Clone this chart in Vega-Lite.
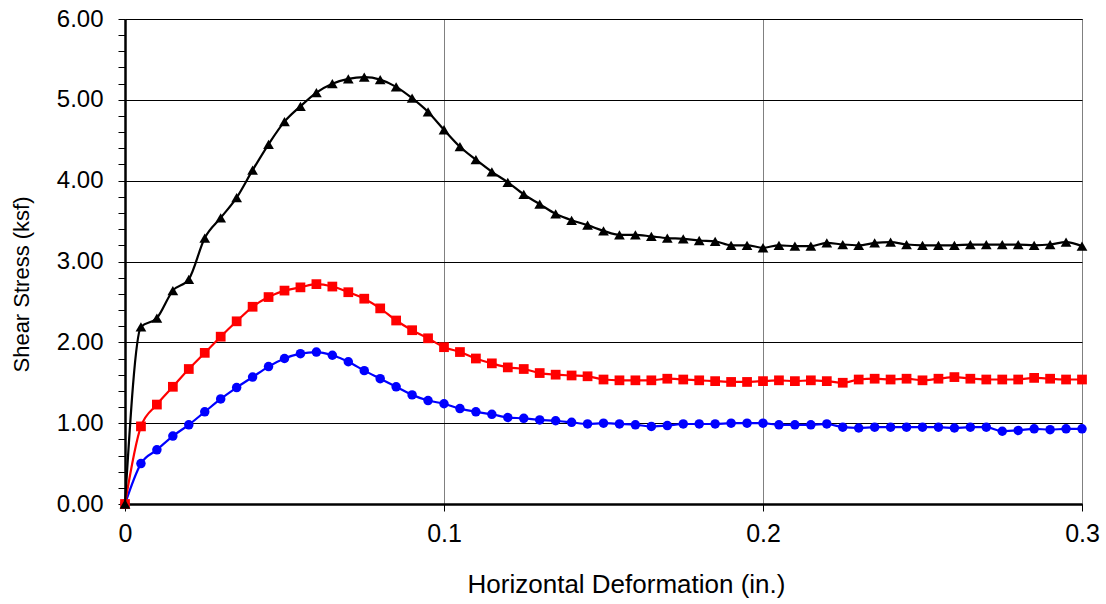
{
  "$schema": "https://vega.github.io/schema/vega-lite/v6.json",
  "width": 957,
  "height": 485,
  "autosize": {"type": "none"},
  "padding": {"left": 125, "top": 19, "right": 24, "bottom": 100},
  "background": "white",
  "config": {
    "view": {"stroke": "black", "strokeWidth": 1},
    "font": "Liberation Sans"
  },
  "datasets": {
    "black": [
      {"x": 0, "y": 0}, {"x": 0.005, "y": 2.19}, {"x": 0.01, "y": 2.30}, {"x": 0.015, "y": 2.64}, {"x": 0.02, "y": 2.78},
      {"x": 0.025, "y": 3.29}, {"x": 0.03, "y": 3.54}, {"x": 0.035, "y": 3.79}, {"x": 0.04, "y": 4.13}, {"x": 0.045, "y": 4.45},
      {"x": 0.05, "y": 4.73}, {"x": 0.055, "y": 4.92}, {"x": 0.06, "y": 5.09}, {"x": 0.065, "y": 5.20}, {"x": 0.07, "y": 5.26},
      {"x": 0.075, "y": 5.28}, {"x": 0.08, "y": 5.25}, {"x": 0.085, "y": 5.16}, {"x": 0.09, "y": 5.02}, {"x": 0.095, "y": 4.85},
      {"x": 0.1, "y": 4.63}, {"x": 0.105, "y": 4.42}, {"x": 0.11, "y": 4.26}, {"x": 0.115, "y": 4.11}, {"x": 0.12, "y": 3.98},
      {"x": 0.125, "y": 3.83}, {"x": 0.13, "y": 3.71}, {"x": 0.135, "y": 3.59}, {"x": 0.14, "y": 3.51}, {"x": 0.145, "y": 3.45},
      {"x": 0.15, "y": 3.38}, {"x": 0.155, "y": 3.33}, {"x": 0.16, "y": 3.33}, {"x": 0.165, "y": 3.31}, {"x": 0.17, "y": 3.29},
      {"x": 0.175, "y": 3.28}, {"x": 0.18, "y": 3.26}, {"x": 0.185, "y": 3.25}, {"x": 0.19, "y": 3.20}, {"x": 0.195, "y": 3.20},
      {"x": 0.2, "y": 3.17}, {"x": 0.205, "y": 3.20}, {"x": 0.21, "y": 3.19}, {"x": 0.215, "y": 3.19}, {"x": 0.22, "y": 3.23},
      {"x": 0.225, "y": 3.21}, {"x": 0.23, "y": 3.20}, {"x": 0.235, "y": 3.23}, {"x": 0.24, "y": 3.24}, {"x": 0.245, "y": 3.21},
      {"x": 0.25, "y": 3.20}, {"x": 0.255, "y": 3.20}, {"x": 0.26, "y": 3.20}, {"x": 0.265, "y": 3.21}, {"x": 0.27, "y": 3.21},
      {"x": 0.275, "y": 3.21}, {"x": 0.28, "y": 3.21}, {"x": 0.285, "y": 3.20}, {"x": 0.29, "y": 3.21}, {"x": 0.295, "y": 3.24},
      {"x": 0.3, "y": 3.19}
    ],
    "red": [
      {"x": 0, "y": 0}, {"x": 0.005, "y": 0.96}, {"x": 0.01, "y": 1.23}, {"x": 0.015, "y": 1.45}, {"x": 0.02, "y": 1.67},
      {"x": 0.025, "y": 1.87}, {"x": 0.03, "y": 2.07}, {"x": 0.035, "y": 2.26}, {"x": 0.04, "y": 2.44}, {"x": 0.045, "y": 2.56},
      {"x": 0.05, "y": 2.64}, {"x": 0.055, "y": 2.68}, {"x": 0.06, "y": 2.72}, {"x": 0.065, "y": 2.69}, {"x": 0.07, "y": 2.62},
      {"x": 0.075, "y": 2.54}, {"x": 0.08, "y": 2.42}, {"x": 0.085, "y": 2.27}, {"x": 0.09, "y": 2.15}, {"x": 0.095, "y": 2.05},
      {"x": 0.1, "y": 1.94}, {"x": 0.105, "y": 1.88}, {"x": 0.11, "y": 1.80}, {"x": 0.115, "y": 1.74}, {"x": 0.12, "y": 1.69},
      {"x": 0.125, "y": 1.67}, {"x": 0.13, "y": 1.62}, {"x": 0.135, "y": 1.60}, {"x": 0.14, "y": 1.59}, {"x": 0.145, "y": 1.58},
      {"x": 0.15, "y": 1.54}, {"x": 0.155, "y": 1.53}, {"x": 0.16, "y": 1.53}, {"x": 0.165, "y": 1.53}, {"x": 0.17, "y": 1.55},
      {"x": 0.175, "y": 1.54}, {"x": 0.18, "y": 1.53}, {"x": 0.185, "y": 1.52}, {"x": 0.19, "y": 1.51}, {"x": 0.195, "y": 1.51},
      {"x": 0.2, "y": 1.52}, {"x": 0.205, "y": 1.53}, {"x": 0.21, "y": 1.52}, {"x": 0.215, "y": 1.53}, {"x": 0.22, "y": 1.52},
      {"x": 0.225, "y": 1.50}, {"x": 0.23, "y": 1.54}, {"x": 0.235, "y": 1.55}, {"x": 0.24, "y": 1.54}, {"x": 0.245, "y": 1.55},
      {"x": 0.25, "y": 1.53}, {"x": 0.255, "y": 1.55}, {"x": 0.26, "y": 1.57}, {"x": 0.265, "y": 1.55}, {"x": 0.27, "y": 1.54},
      {"x": 0.275, "y": 1.54}, {"x": 0.28, "y": 1.54}, {"x": 0.285, "y": 1.56}, {"x": 0.29, "y": 1.55}, {"x": 0.295, "y": 1.54},
      {"x": 0.3, "y": 1.54}
    ],
    "blue": [
      {"x": 0, "y": 0}, {"x": 0.005, "y": 0.50}, {"x": 0.01, "y": 0.67}, {"x": 0.015, "y": 0.84}, {"x": 0.02, "y": 0.98},
      {"x": 0.025, "y": 1.14}, {"x": 0.03, "y": 1.30}, {"x": 0.035, "y": 1.44}, {"x": 0.04, "y": 1.57}, {"x": 0.045, "y": 1.70},
      {"x": 0.05, "y": 1.80}, {"x": 0.055, "y": 1.86}, {"x": 0.06, "y": 1.88}, {"x": 0.065, "y": 1.84}, {"x": 0.07, "y": 1.76},
      {"x": 0.075, "y": 1.65}, {"x": 0.08, "y": 1.55}, {"x": 0.085, "y": 1.45}, {"x": 0.09, "y": 1.35}, {"x": 0.095, "y": 1.28},
      {"x": 0.1, "y": 1.24}, {"x": 0.105, "y": 1.18}, {"x": 0.11, "y": 1.14}, {"x": 0.115, "y": 1.11}, {"x": 0.12, "y": 1.07},
      {"x": 0.125, "y": 1.06}, {"x": 0.13, "y": 1.04}, {"x": 0.135, "y": 1.03}, {"x": 0.14, "y": 1.01}, {"x": 0.145, "y": 0.99},
      {"x": 0.15, "y": 1.00}, {"x": 0.155, "y": 0.99}, {"x": 0.16, "y": 0.98}, {"x": 0.165, "y": 0.96}, {"x": 0.17, "y": 0.97},
      {"x": 0.175, "y": 0.99}, {"x": 0.18, "y": 0.99}, {"x": 0.185, "y": 0.99}, {"x": 0.19, "y": 1.00}, {"x": 0.195, "y": 1.00},
      {"x": 0.2, "y": 1.00}, {"x": 0.205, "y": 0.98}, {"x": 0.21, "y": 0.98}, {"x": 0.215, "y": 0.98}, {"x": 0.22, "y": 0.99},
      {"x": 0.225, "y": 0.95}, {"x": 0.23, "y": 0.94}, {"x": 0.235, "y": 0.95}, {"x": 0.24, "y": 0.95}, {"x": 0.245, "y": 0.95},
      {"x": 0.25, "y": 0.95}, {"x": 0.255, "y": 0.95}, {"x": 0.26, "y": 0.94}, {"x": 0.265, "y": 0.95}, {"x": 0.27, "y": 0.95},
      {"x": 0.275, "y": 0.90}, {"x": 0.28, "y": 0.91}, {"x": 0.285, "y": 0.93}, {"x": 0.29, "y": 0.92}, {"x": 0.295, "y": 0.93},
      {"x": 0.3, "y": 0.93}
    ]
  },
  "encoding": {
    "x": {
      "field": "x",
      "type": "quantitative",
      "scale": {"domain": [0, 0.3], "nice": false, "zero": true},
      "axis": {
        "values": [0, 0.1, 0.2, 0.3],
        "format": "~g",
        "grid": true,
        "gridColor": "#808080",
        "gridWidth": 1,
        "domainColor": "black",
        "domainWidth": 2.5,
        "tickColor": "black",
        "tickSize": 7,
        "tickWidth": 1,
        "labelFlush": false,
        "labelFontSize": 25,
        "labelColor": "black",
        "labelPadding": 10,
        "title": "Horizontal Deformation (in.)",
        "titleFontSize": 26,
        "titleFontWeight": "normal",
        "titleColor": "black",
        "titleX": 501,
        "titleY": 88,
        "titleAlign": "center",
        "titleBaseline": "alphabetic"
      }
    },
    "y": {
      "field": "y",
      "type": "quantitative",
      "scale": {"domain": [0, 6], "nice": false},
      "axis": {
        "values": [0, 0.2, 0.4, 0.6, 0.8, 1, 1.2, 1.4, 1.6, 1.8, 2, 2.2, 2.4, 2.6, 2.8, 3, 3.2, 3.4, 3.6, 3.8, 4, 4.2, 4.4, 4.6, 4.8, 5, 5.2, 5.4, 5.6, 5.8, 6],
        "labelExpr": "abs(datum.value - round(datum.value)) < 0.001 ? format(datum.value, '.2f') : ''",
        "labelOverlap": false,
        "grid": true,
        "gridColor": "black",
        "gridWidth": 1,
        "gridOpacity": {"condition": {"test": "abs(datum.value - round(datum.value)) < 0.001", "value": 1}, "value": 0},
        "domainColor": "black",
        "domainWidth": 2.5,
        "tickColor": "black",
        "tickSize": 7,
        "tickWidth": 1,
        "labelFontSize": 24,
        "labelColor": "black",
        "labelPadding": 15,
        "title": "Shear Stress (ksf)",
        "titleFontSize": 22,
        "titleFontWeight": "normal",
        "titleColor": "black",
        "titleX": -97,
        "titleY": 265,
        "titleAlign": "center",
        "titleBaseline": "alphabetic"
      }
    }
  },
  "layer": [
    {
      "data": {"name": "blue"},
      "mark": {
        "type": "line",
        "color": "#0000FF",
        "strokeWidth": 2.2,
        "interpolate": "monotone",
        "clip": false,
        "point": {"shape": "circle", "size": 90, "filled": true, "color": "#0000FF", "opacity": 1}
      }
    },
    {
      "data": {"name": "red"},
      "mark": {
        "type": "line",
        "color": "#FF0000",
        "strokeWidth": 2.2,
        "interpolate": "monotone",
        "clip": false,
        "point": {"shape": "square", "size": 95, "filled": true, "color": "#FF0000", "opacity": 1}
      }
    },
    {
      "data": {"name": "black"},
      "mark": {
        "type": "line",
        "color": "black",
        "strokeWidth": 2.2,
        "interpolate": "monotone",
        "clip": false,
        "point": {"shape": "triangle-up", "size": 115, "filled": true, "color": "black", "opacity": 1}
      }
    }
  ]
}
